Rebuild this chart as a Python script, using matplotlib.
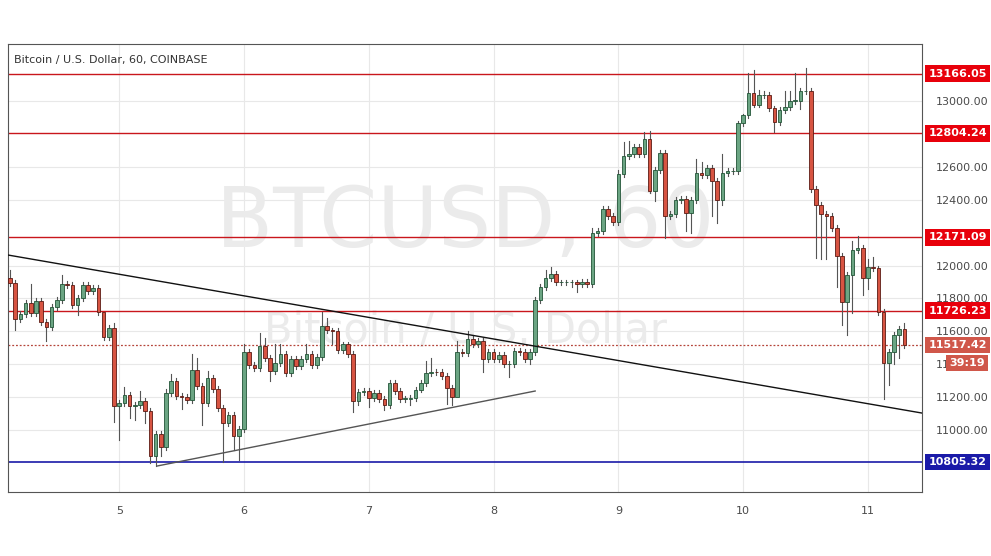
import numpy as np
import matplotlib.pyplot as plt
from matplotlib.patches import Rectangle
from matplotlib.transforms import blended_transform_factory

# hourly closes, BTCUSD Coinbase
closes = [
    11895, 11673, 11705, 11774, 11710, 11786, 11659, 11628, 11750, 11790,
    11885, 11880, 11760, 11800, 11880, 11845, 11865, 11720, 11568, 11622,
    11143, 11164, 11210, 11143, 11150, 11174, 11113, 10840, 10978, 10897,
    11224, 11300, 11208, 11200, 11180, 11366, 11265, 11164, 11315, 11250,
    11133, 11043, 11093, 10962, 11006, 11477, 11396, 11376, 11511, 11436,
    11356, 11406, 11460, 11345, 11430, 11390, 11430, 11460, 11396, 11446,
    11632, 11608,
    11600, 11486, 11520, 11461, 11178, 11232, 11236, 11192, 11226, 11186,
    11151, 11283, 11238, 11188, 11190, 11195, 11246, 11283, 11344, 11354,
    11350, 11330, 11253, 11202, 11476, 11466, 11551, 11520, 11540, 11429,
    11476, 11429, 11455, 11399, 11399, 11482, 11476, 11429, 11476, 11790,
    11867, 11926, 11946, 11897, 11897, 11897, 11897, 11885, 11901, 11885,
    12200, 12210,
    12345, 12300, 12265, 12557, 12663, 12677, 12718, 12677, 12768, 12456,
    12581, 12683, 12299, 12315, 12396, 12406, 12321, 12396, 12561, 12553,
    12593, 12516, 12400, 12561, 12573, 12577, 12868, 12913, 13049, 12979,
    13035, 13035, 12955, 12874, 12943, 12965, 13003, 13003, 13059, 13063,
    12466, 12366, 12316, 12300, 12226, 12056,
    11780, 11942, 12096, 12106, 11926, 11992, 11982, 11716, 11406, 11472,
    11580, 11612, 11517,
]
first_open = 11927

# notable wicks (candle number -> price)
highs = {1: 11972, 5: 11890, 11: 11940, 13: 11900, 19: 11640, 21: 11650,
         23: 11260, 26: 11240, 31: 11250, 32: 11340, 36: 11460, 37: 11440,
         39: 11360, 46: 11520, 49: 11590, 50: 11560, 52: 11520, 53: 11520,
         58: 11520, 61: 11720, 62: 11680, 63: 11620, 81: 11420, 82: 11440,
         87: 11540, 89: 11600, 90: 11580, 104: 11970, 105: 11990, 112: 11920,
         113: 12230, 118: 12580, 119: 12750, 120: 12760, 121: 12740, 123: 12810,
         124: 12820, 126: 12700, 133: 12650, 134: 12630, 138: 12680,
         141: 12880, 142: 12920, 143: 13170, 144: 13190, 145: 13070, 146: 13060,
         150: 13060, 151: 13060, 152: 13170, 153: 13080, 154: 13204, 155: 13080,
         163: 12150, 164: 12180, 166: 12040, 167: 12050, 172: 11630, 173: 11650}
lows = {2: 11610, 8: 11540, 14: 11700, 21: 11050, 22: 10940, 24: 11070,
        25: 11060, 27: 11040, 28: 10800, 29: 10780, 30: 10840, 34: 11130,
        38: 11030, 42: 10805, 44: 10880, 45: 10820, 51: 11300, 55: 11330,
        63: 11520, 67: 11110, 68: 11150, 70: 11140, 73: 11120, 78: 11150,
        85: 11160, 86: 11150, 87: 11350, 92: 11350, 97: 11320, 101: 11400,
        109: 11870, 110: 11840, 125: 12390, 127: 12170, 131: 12210, 132: 12200,
        136: 12300, 137: 12260, 138: 12370, 148: 12810, 153: 12950,
        156: 12046, 157: 12040, 158: 12040, 160: 11870, 161: 11636, 162: 11576,
        163: 11710, 165: 11820, 166: 11860, 169: 11186, 170: 11276, 171: 11400,
        172: 11440}

levels_red = [13166.05, 12804.24, 12171.09, 11726.23]
level_blue = 10805.32
last_price = 11517.42
countdown = '39:19'

# 12800 and 12200 sit under the level boxes and are not shown
yticks = [11000, 11200, 11400, 11600, 11800, 12000, 12400, 12600, 13000]
day_labels = ['5', '6', '7', '8', '9', '10', '11']
day_start = 22  # candle number of day 5, 00:00

# resistance / support trend lines (candle number, price)
resist_line = ([0.6, 176.4], [12064, 11103])
support_line = ([29.3, 102.0], [10781, 11237])

UP, DN = '#6ba583', '#d75442'
UP_EDGE, DN_EDGE = '#225437', '#5b1a13'

fig = plt.figure(figsize=(9.91, 5.56), dpi=100)
ax = fig.add_axes([8 / 991, 1 - 492 / 556, (922 - 8) / 991, (492 - 44) / 556])

n = len(closes)
idx = np.arange(1, n + 1)
opens = [first_open] + closes[:-1]
w = 0.7
for i, o, c in zip(idx, opens, closes):
    up = c >= o
    hi = highs.get(i, max(o, c) + 18)
    lo = lows.get(i, min(o, c) - 18)
    edge = UP_EDGE if up else DN_EDGE
    ax.plot([i, i], [lo, hi], color='#555555', lw=0.8, zorder=3)
    ax.add_patch(Rectangle((i - w / 2, min(o, c)), w, max(abs(c - o), 4),
                           facecolor=UP if up else DN, edgecolor=edge,
                           lw=0.6, zorder=4))

ax.set_xlim(0.615, 176.4)
ax.set_ylim(10623, 13347)

for lv in levels_red:
    ax.axhline(lv, color='#c9161c', lw=1.0, zorder=2)
ax.axhline(level_blue, color='#1a1aa8', lw=1.2, zorder=2)
ax.axhline(last_price, color='#b5453a', lw=0.9, ls=(0, (1.5, 1.5)), zorder=2)

ax.plot(*resist_line, color='#111111', lw=1.0, zorder=5)
ax.plot(*support_line, color='#555555', lw=1.0, zorder=5)

# watermark
ax.text(0.5, 0.6, 'BTCUSD, 60', transform=ax.transAxes, ha='center', va='center',
        fontsize=60, color='#ebebeb', zorder=1)
ax.text(0.5, 0.36, 'Bitcoin / U.S. Dollar', transform=ax.transAxes, ha='center',
        va='center', fontsize=30, color='#ebebeb', zorder=1)
ax.text(0.007, 0.965, 'Bitcoin / U.S. Dollar, 60, COINBASE', transform=ax.transAxes,
        fontsize=8, color='#333333', va='center', zorder=6)

ax.set_yticks(yticks)
ax.set_yticklabels(['%.2f' % t for t in yticks])
ax.yaxis.tick_right()
ax.set_xticks([day_start + 24 * k for k in range(len(day_labels))])
ax.set_xticklabels(day_labels)
ax.tick_params(axis='both', labelsize=8, colors='#4a4a4a', length=0, pad=10)
ax.grid(True, color='#e8e8e8', lw=0.8)
ax.set_axisbelow(True)
for sp in ax.spines.values():
    sp.set_color('#555555')
    sp.set_linewidth(0.8)

tr = blended_transform_factory(ax.transAxes, ax.transData)
box = dict(boxstyle='square,pad=0.3', ec='none')
for lv in levels_red:
    ax.text(1.007, lv, '%.2f' % lv, transform=tr, va='center', ha='left', fontsize=8,
            color='white', fontweight='bold', bbox=dict(box, fc='#e8000b'), zorder=7)
ax.text(1.007, level_blue, '%.2f' % level_blue, transform=tr, va='center', ha='left',
        fontsize=8, color='white', fontweight='bold', bbox=dict(box, fc='#1a1aa8'))
ax.text(1.007, last_price, '%.2f' % last_price, transform=tr, va='center', ha='left',
        fontsize=8, color='white', fontweight='bold', bbox=dict(box, fc='#d0574a'))
ax.text(1.03, last_price - 110, countdown, transform=tr, va='center', ha='left',
        fontsize=8, color='white', fontweight='bold', bbox=dict(box, fc='#d0574a'),
        zorder=7)

fig.savefig('out.png', dpi=100)
